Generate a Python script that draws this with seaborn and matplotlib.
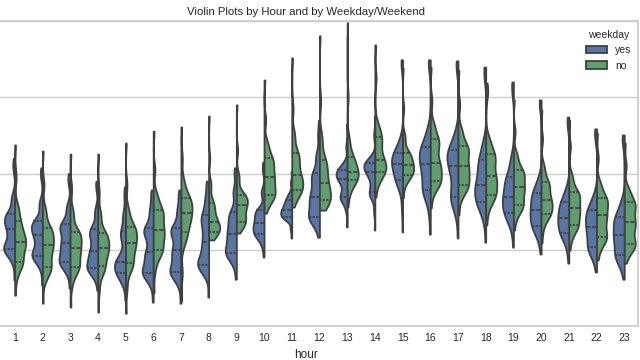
import matplotlib
matplotlib.use("Agg")
import matplotlib.pyplot as plt
import seaborn as sns
import pandas as pd

hours = list(range(1, 24))
hue_levels = ["yes", "no"]

yes_values = [
    [1.21, 1.70, 1.95, 2.02, 2.08, 2.30, 2.54, 2.72, 2.82, 2.94, 3.35, 4.15, 4.40],
    [1.08, 1.55, 1.80, 1.84, 1.95, 2.20, 2.39, 2.55, 2.65, 2.75, 3.20, 3.95, 4.15],
    [1.00, 1.40, 1.62, 1.68, 1.85, 2.05, 2.18, 2.45, 2.60, 2.68, 3.10, 3.80, 4.00],
    [0.94, 1.30, 1.48, 1.52, 1.65, 1.85, 1.97, 2.25, 2.45, 2.54, 3.00, 3.65, 3.80],
    [0.68, 1.10, 1.30, 1.39, 1.55, 1.65, 1.68, 1.90, 2.30, 2.49, 2.90, 3.40, 3.65],
    [0.63, 1.10, 1.35, 1.39, 1.55, 1.80, 1.94, 2.30, 2.50, 2.57, 3.00, 3.40, 3.57],
    [0.60, 1.10, 1.35, 1.42, 1.60, 1.85, 1.99, 2.30, 2.50, 2.57, 3.00, 3.40, 3.57],
    [0.76, 1.35, 1.55, 1.60, 1.72, 1.95, 2.20, 2.50, 2.75, 2.91, 3.30, 3.70, 3.80],
    [1.23, 1.60, 1.85, 1.91, 2.05, 2.25, 2.41, 2.60, 2.80, 2.99, 3.50, 4.00, 4.15],
    [1.81, 2.10, 2.33, 2.41, 2.52, 2.62, 2.70, 2.85, 2.97, 3.04, 3.50, 4.10, 4.30],
    [2.31, 2.55, 2.78, 2.86, 2.92, 2.98, 3.04, 3.12, 3.20, 3.30, 3.45, 3.75, 4.05],
    [2.33, 2.60, 2.80, 2.86, 3.05, 3.25, 3.38, 3.60, 3.85, 4.01, 4.45, 5.00, 5.40],
    [2.60, 3.05, 3.30, 3.38, 3.55, 3.75, 3.86, 3.95, 4.03, 4.09, 4.25, 4.70, 5.30],
    [2.52, 3.00, 3.40, 3.51, 3.75, 3.95, 4.05, 4.15, 4.22, 4.28, 4.40, 5.00, 5.50],
    [2.47, 3.10, 3.65, 3.83, 4.00, 4.15, 4.25, 4.38, 4.48, 4.54, 4.85, 6.85, 6.98],
    [2.41, 3.00, 3.45, 3.57, 3.85, 4.10, 4.25, 4.45, 4.62, 4.70, 5.10, 6.85, 6.98],
    [2.31, 2.90, 3.25, 3.38, 3.70, 4.00, 4.20, 4.40, 4.55, 4.62, 5.00, 6.80, 6.95],
    [2.20, 2.75, 3.10, 3.25, 3.45, 3.60, 3.70, 3.95, 4.20, 4.35, 4.75, 6.60, 6.79],
    [2.07, 2.55, 2.85, 2.96, 3.15, 3.30, 3.38, 3.60, 3.80, 3.91, 4.35, 6.20, 6.40],
    [1.89, 2.25, 2.52, 2.62, 2.80, 2.95, 3.04, 3.25, 3.40, 3.49, 3.80, 5.80, 5.93],
    [1.65, 2.00, 2.33, 2.44, 2.60, 2.75, 2.83, 3.00, 3.15, 3.25, 3.55, 5.30, 5.48],
    [1.42, 1.75, 1.98, 2.07, 2.30, 2.50, 2.60, 2.80, 2.95, 3.04, 3.35, 5.00, 5.17],
    [1.23, 1.55, 1.78, 1.86, 2.10, 2.30, 2.39, 2.60, 2.78, 2.86, 3.20, 4.85, 5.01],
]

# distinct observed levels per hour for weekday == "no"
no_values = [
    [0.81, 1.30, 1.60, 1.68, 1.95, 2.10, 2.20, 2.35, 2.50, 2.75, 3.10, 3.90, 4.75],
    [0.60, 1.20, 1.45, 1.55, 1.80, 2.00, 2.12, 2.30, 2.45, 2.57, 3.00, 3.70, 4.59],
    [0.50, 1.10, 1.45, 1.55, 1.75, 1.95, 2.05, 2.25, 2.40, 2.47, 2.95, 3.60, 4.51],
    [0.37, 0.95, 1.40, 1.57, 1.80, 1.95, 2.05, 2.20, 2.35, 2.44, 2.90, 3.50, 4.51],
    [0.34, 1.00, 1.50, 1.65, 1.90, 2.10, 2.18, 2.40, 2.52, 2.60, 3.00, 3.70, 4.80],
    [0.87, 1.50, 1.90, 1.99, 2.25, 2.40, 2.52, 2.75, 2.95, 3.04, 3.40, 4.10, 5.11],
    [0.65, 1.40, 2.20, 2.47, 2.70, 2.85, 2.96, 3.15, 3.28, 3.36, 3.75, 4.40, 5.22],
    [2.26, 2.35, 2.42, 2.47, 2.58, 2.66, 2.73, 2.90, 3.10, 3.23, 3.70, 4.40, 5.51],
    [2.44, 2.58, 2.68, 2.73, 2.90, 3.05, 3.17, 3.28, 3.38, 3.44, 3.90, 4.60, 5.80],
    [2.96, 3.15, 3.35, 3.44, 3.60, 3.78, 3.91, 4.10, 4.28, 4.41, 4.75, 5.40, 6.45],
    [3.12, 3.30, 3.50, 3.57, 3.72, 3.85, 3.96, 4.20, 4.40, 4.54, 5.00, 5.70, 7.03],
    [3.04, 3.15, 3.25, 3.30, 3.45, 3.62, 3.75, 4.00, 4.20, 4.35, 4.90, 5.90, 7.61],
    [3.12, 3.45, 3.72, 3.83, 3.92, 3.98, 4.04, 4.20, 4.35, 4.43, 4.85, 6.00, 7.95],
    [3.38, 3.70, 3.95, 4.04, 4.15, 4.28, 4.35, 4.60, 4.85, 4.96, 5.25, 6.50, 7.37],
    [3.36, 3.70, 3.90, 3.96, 4.08, 4.16, 4.22, 4.35, 4.48, 4.54, 4.95, 5.70, 6.77],
    [3.10, 3.50, 3.72, 3.80, 4.00, 4.15, 4.28, 4.55, 4.78, 4.90, 5.25, 5.90, 6.79],
    [2.91, 3.35, 3.60, 3.70, 3.90, 4.08, 4.20, 4.45, 4.62, 4.72, 5.10, 5.80, 6.71],
    [2.65, 3.05, 3.35, 3.44, 3.65, 3.82, 3.93, 4.20, 4.40, 4.51, 4.85, 6.10, 6.37],
    [2.52, 2.85, 3.08, 3.17, 3.38, 3.55, 3.65, 3.85, 4.00, 4.09, 4.45, 5.10, 5.93],
    [2.18, 2.55, 2.85, 2.94, 3.10, 3.22, 3.30, 3.50, 3.68, 3.78, 4.15, 4.90, 5.67],
    [1.99, 2.30, 2.55, 2.65, 2.85, 3.00, 3.10, 3.30, 3.45, 3.51, 3.90, 4.70, 5.40],
    [1.73, 2.00, 2.25, 2.33, 2.55, 2.75, 2.91, 3.10, 3.28, 3.36, 3.70, 4.40, 5.06],
    [1.65, 1.90, 2.08, 2.15, 2.40, 2.60, 2.73, 2.95, 3.15, 3.25, 3.55, 4.20, 4.80],
]

# how many observations sit at each of the 13 levels above
obs_counts = [1, 2, 4, 5, 4, 4, 5, 4, 4, 5, 4, 2, 1]

y_ticks = [0, 2, 4, 6, 8]
palette = ["#4C72B0", "#55A868"]

rows = []
for h, yv, nv in zip(hours, yes_values, no_values):
    for label, vals in (("yes", yv), ("no", nv)):
        for v, c in zip(vals, obs_counts):
            rows.extend([{"hour": h, "weekday": label, "value": v}] * c)
df = pd.DataFrame(rows)

sns.set_theme(style="whitegrid")
plt.rcParams["font.family"] = ["Liberation Sans", "DejaVu Sans"]

fig = plt.figure(figsize=(6.4, 3.6), dpi=100)
# the plotting area starts a little left of the visible picture
ax = fig.add_axes([-0.042, 0.094, 1.039, 0.848])

sns.violinplot(data=df, x="hour", y="value", hue="weekday", hue_order=hue_levels,
               order=hours, split=True, inner="quart", cut=0, bw_adjust=0.6,
               palette=palette, linecolor=".25", linewidth=1.3, width=0.8,
               density_norm="width", ax=ax)

ax.set_xlim(-1.5, len(hours) - 0.5)
ax.set_ylim(y_ticks[0], y_ticks[-1])
ax.set_yticks(y_ticks)
ax.set_yticklabels([])
ax.set_ylabel("")
ax.grid(axis="x", visible=False)
ax.grid(axis="y", color=".8", linewidth=1)
for s in ax.spines.values():
    s.set_color(".8")
ax.tick_params(axis="x", labelsize=7.5, pad=5, length=0)
ax.tick_params(axis="y", length=0)
ax.set_xlabel("hour", fontsize=8.5, labelpad=4)
ax.set_title("Violin Plots by Hour and by Weekday/Weekend", fontsize=8.2, pad=4)

sns.move_legend(ax, "upper right", frameon=False, title="weekday",
                fontsize=7.5, title_fontsize=7.5, bbox_to_anchor=(1.004, 1.0))

fig.savefig("out.png", dpi=100)
